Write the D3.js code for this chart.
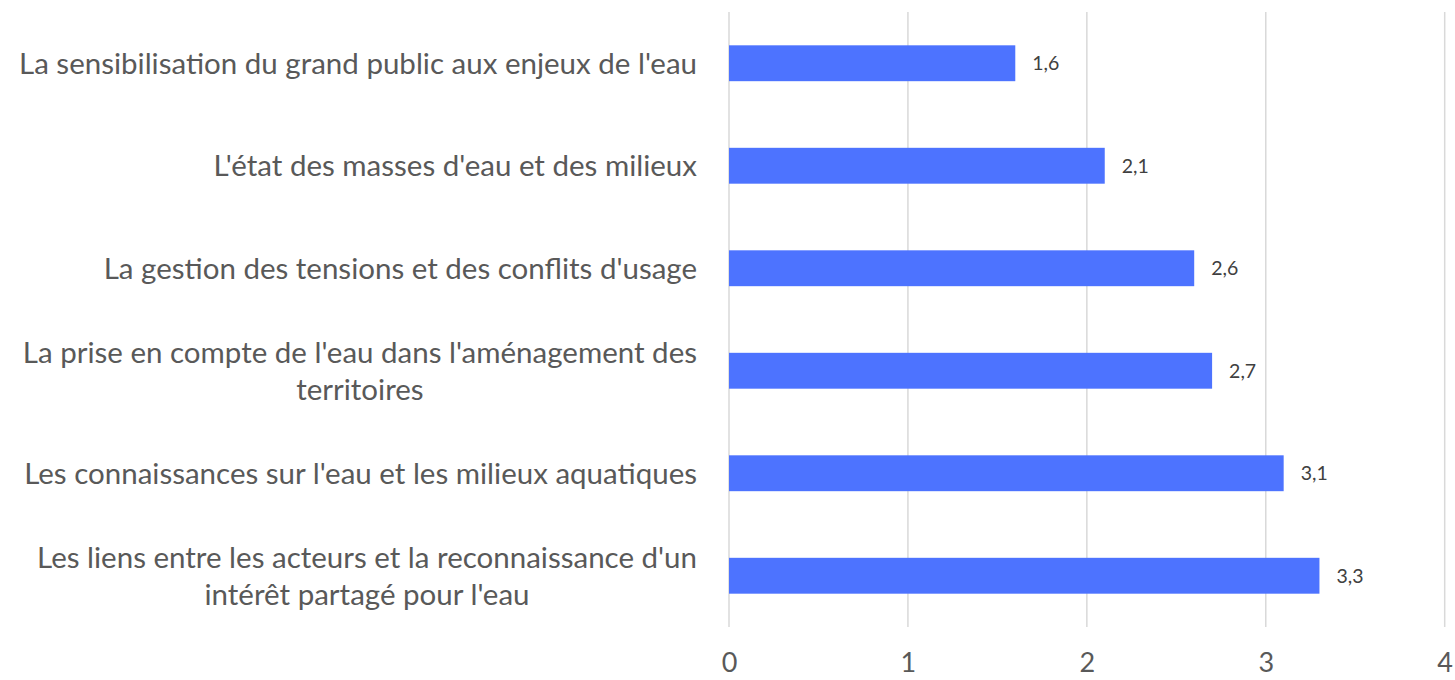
<!DOCTYPE html>
<html><head><meta charset="utf-8">
<script src="https://cdn.jsdelivr.net/npm/d3@7"></script>
<style>html,body{margin:0;padding:0;background:#fff;}</style>
</head><body>
<svg id="chart" width="1455" height="680"></svg>
<script>
const categories = [
  ["La sensibilisation du grand public aux enjeux de l'eau"],
  ["L'état des masses d'eau et des milieux"],
  ["La gestion des tensions et des conflits d'usage"],
  ["La prise en compte de l'eau dans l'aménagement des", "territoires"],
  ["Les connaissances sur l'eau et les milieux aquatiques"],
  ["Les liens entre les acteurs et la reconnaissance d'un", "intérêt partagé pour l'eau"]
];
const values = [1.6, 2.1, 2.6, 2.7, 3.1, 3.3];
const ticks = [0, 1, 2, 3, 4];

const svg = d3.select("#chart");
const font = "Lato, 'Open Sans', sans-serif";
const m = {left: 729, right: 1455 - 1444.7, top: 12, bottom: 680 - 627};
const W = 1455, H = 680;

const x = d3.scaleLinear().domain([0, 4]).range([m.left, W - m.right]);
const y = d3.scaleBand().domain(d3.range(categories.length))
  .range([m.top, H - m.bottom]).paddingInner(0.65).paddingOuter(0.325);

// gridlines
svg.append("g").selectAll("line").data(ticks).join("line")
  .attr("x1", d => x(d)).attr("x2", d => x(d))
  .attr("y1", m.top).attr("y2", H - m.bottom)
  .attr("stroke", "#d9d9d9").attr("stroke-width", 1.5);

// bars
svg.append("g").selectAll("rect").data(values).join("rect")
  .attr("x", x(0)).attr("y", (d, i) => y(i))
  .attr("width", d => x(d) - x(0)).attr("height", y.bandwidth())
  .attr("fill", "#4d73ff");

// value labels
svg.append("g").selectAll("text").data(values).join("text")
  .attr("x", d => x(d) + 17).attr("y", (d, i) => y(i) + y.bandwidth() / 2)
  .attr("dy", "0.36em").attr("font-family", font).attr("font-size", 19.5)
  .attr("fill", "#404040").text(d => d.toString().replace(".", ","));

// x axis tick labels
const xAxis = d3.axisBottom(x).tickValues(ticks).tickFormat(d3.format("d")).tickSize(0).tickPadding(0);
const gx = svg.append("g").attr("transform", `translate(0,${H - m.bottom})`).call(xAxis);
gx.select(".domain").remove();
gx.selectAll("text").attr("font-family", font).attr("font-size", 27)
  .attr("fill", "#595959").attr("y", 35).attr("dy", "0.36em");

// category labels
const labelRight = 697;
const lineH = 37.5;
const gl = svg.append("g");
categories.forEach((lines, i) => {
  const cy = y(i) + y.bandwidth() / 2;
  const g = gl.append("g");
  const texts = lines.map((ln, j) => g.append("text")
    .attr("font-family", font).attr("font-size", 29.5).attr("fill", "#595959")
    .attr("text-anchor", "middle")
    .attr("y", cy + (j - (lines.length - 1) / 2) * lineH).attr("dy", "0.36em")
    .text(ln));
  const widths = texts.map(t => t.node().getComputedTextLength());
  const maxW = Math.max(...widths);
  texts.forEach(t => t.attr("x", labelRight - maxW / 2));
});
</script>
</body></html>
